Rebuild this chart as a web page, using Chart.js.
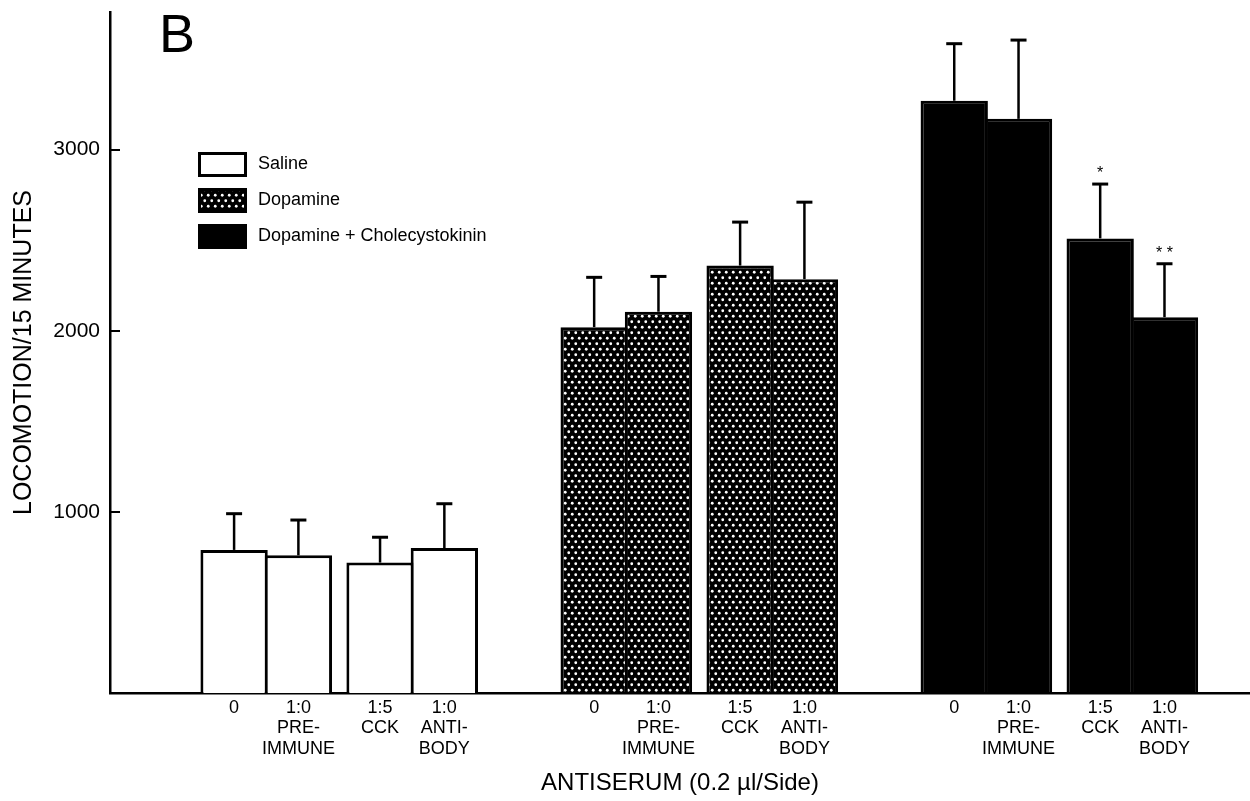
<!DOCTYPE html>
<html lang="en">
<head>
  <meta charset="UTF-8">
  <title>Locomotion - Antiserum</title>
  <script src="https://cdn.jsdelivr.net/npm/chart.js"></script>
  <style>
    body {
      margin: 0;
      background: #fff;
    }

    .chart-box {
      width: 1250px;
      height: 801px;
    }
  </style>
</head>
<body>

  <div class="chart-box">
    <canvas id="locoChart"></canvas>
  </div>

  <script>
    // data
    const treatments = ['Saline', 'Dopamine', 'Dopamine + Cholecystokinin'];
    const antiserumLabels = [['0'], ['1:0', 'PRE-', 'IMMUNE'], ['1:5', 'CCK'], ['1:0', 'ANTI-', 'BODY']];
    const salineMean = [790, 760, 720, 800];
    const salineSem = [200, 195, 140, 245];
    const dopamineMean = [2020, 2105, 2360, 2285];
    const dopamineSem = [275, 195, 240, 425];
    const dopCckMean = [3270, 3170, 2510, 2075];
    const dopCckSem = [315, 435, 300, 295];
    const dopCckSig = ['', '', '*', '* *'];
    const yTicks = [1000, 2000, 3000];
    const yMax = 3760;

    const FONT = "'Liberation Sans', Arial, Helvetica, sans-serif";

    // layout: bars of one pair touch, small gap between pairs, wider gap between groups
    const GROUP_STEP = 5.6;
    const PAIR_STEP = 2.27;
    const barX = (g, i) => g * GROUP_STEP + Math.floor(i / 2) * PAIR_STEP + (i % 2);

    function dotPattern() {
      const c = document.createElement('canvas');
      c.width = 7;
      c.height = 11;
      const g = c.getContext('2d');
      g.fillStyle = '#000';
      g.fillRect(0, 0, 7, 11);
      g.fillStyle = '#fff';
      [[1.75, 2.75], [5.25, 8.25]].forEach(([x, y]) => {
        g.beginPath();
        g.arc(x, y, 1.4, 0, Math.PI * 2);
        g.fill();
      });
      return g.createPattern(c, 'repeat');
    }

    const dots = dotPattern();

    function series(g, mean) {
      return mean.map((v, i) => ({ x: barX(g, i), y: v }));
    }

    const errorBars = {
      id: 'errorBars',
      afterDatasetsDraw(chart) {
        const ctx = chart.ctx;
        const y = chart.scales.y;
        ctx.save();
        ctx.strokeStyle = '#000';
        ctx.fillStyle = '#000';
        chart.data.datasets.forEach((ds, di) => {
          chart.getDatasetMeta(di).data.forEach((bar, i) => {
            const top = y.getPixelForValue(ds.data[i].y + ds.sem[i]);
            ctx.lineWidth = 2.5;
            ctx.beginPath();
            ctx.moveTo(bar.x, bar.y);
            ctx.lineTo(bar.x, top);
            ctx.stroke();
            ctx.lineWidth = 3;
            ctx.beginPath();
            ctx.moveTo(bar.x - 8, top);
            ctx.lineTo(bar.x + 8, top);
            ctx.stroke();
            if (ds.sig && ds.sig[i]) {
              ctx.font = '16px ' + FONT;
              ctx.textAlign = 'center';
              ctx.textBaseline = 'bottom';
              ctx.fillText(ds.sig[i], bar.x, top - 2);
            }
          });
        });
        ctx.restore();
      }
    };

    const panelExtras = {
      id: 'panelExtras',
      afterDraw(chart) {
        const ctx = chart.ctx;
        const ca = chart.chartArea;
        ctx.save();

        // panel letter
        ctx.fillStyle = '#000';
        ctx.font = '54px ' + FONT;
        ctx.textAlign = 'left';
        ctx.textBaseline = 'alphabetic';
        ctx.fillText('B', ca.left + 49, ca.top + 40);

        // legend
        const lx = ca.left + 88;
        const ly = ca.top + 140;
        treatments.forEach((name, k) => {
          const ds = chart.data.datasets[k];
          const yy = ly + k * 36;
          ctx.fillStyle = ds.backgroundColor;
          ctx.fillRect(lx, yy, 49, 25);
          ctx.lineWidth = 3;
          ctx.strokeStyle = '#000';
          ctx.strokeRect(lx + 1.5, yy + 1.5, 46, 22);
          ctx.fillStyle = '#000';
          ctx.font = '18px ' + FONT;
          ctx.textBaseline = 'middle';
          ctx.fillText(name, lx + 60, yy + 12.5);
        });
        ctx.restore();
      }
    };

    const locoChart = new Chart(document.getElementById('locoChart'), {
      type: 'bar',
      data: {
        datasets: [
          {
            label: treatments[0],
            data: series(0, salineMean),
            sem: salineSem,
            backgroundColor: '#fff',
            borderColor: '#000',
            borderWidth: 3
          },
          {
            label: treatments[1],
            data: series(1, dopamineMean),
            sem: dopamineSem,
            backgroundColor: dots,
            borderColor: '#000',
            borderWidth: 3
          },
          {
            label: treatments[2],
            data: series(2, dopCckMean),
            sem: dopCckSem,
            sig: dopCckSig,
            backgroundColor: '#000',
            borderColor: '#000',
            borderWidth: 3
          }
        ]
      },
      options: {
        responsive: true,
        maintainAspectRatio: false,
        animation: false,
        layout: { padding: { top: 12, right: 0, bottom: 0, left: 0 } },
        datasets: {
          bar: { grouped: false, barPercentage: 1.047, categoryPercentage: 1 }
        },
        plugins: {
          legend: { display: false },
          tooltip: { enabled: false }
        },
        scales: {
          x: {
            type: 'linear',
            offset: false,
            min: -1.93,
            max: 15.8,
            afterFit: s => {
              s.height = 108;
              s.paddingLeft = 0;
              s.paddingRight = 0;
            },
            afterBuildTicks: s => {
              const t = [];
              for (let g = 0; g < 3; g++) {
                for (let i = 0; i < 4; i++) t.push({ value: barX(g, i) });
              }
              s.ticks = t;
            },
            grid: { display: false, offset: false },
            border: { display: true, color: '#000', width: 2.5 },
            ticks: {
              autoSkip: false,
              maxRotation: 0,
              padding: -3,
              color: '#000',
              font: { family: FONT, size: 18, lineHeight: 1.13 },
              callback: (v, i) => antiserumLabels[i % 4]
            },
            title: {
              display: true,
              text: 'ANTISERUM (0.2 \u00b5l/Side)',
              color: '#000',
              font: { family: FONT, size: 24 },
              padding: { top: 0, bottom: 3 }
            }
          },
          y: {
            min: 0,
            max: yMax,
            afterFit: s => {
              s.width = 110;
              s.paddingTop = 0;
              s.paddingBottom = 0;
            },
            afterBuildTicks: s => { s.ticks = yTicks.map(v => ({ value: v })); },
            grid: {
              drawOnChartArea: false,
              drawTicks: true,
              tickLength: -10,
              color: '#000',
              lineWidth: 2
            },
            border: { display: true, color: '#000', width: 2.5 },
            ticks: {
              padding: 20,
              color: '#000',
              font: { family: FONT, size: 21 },
              callback: v => String(v)
            },
            title: {
              display: true,
              text: 'LOCOMOTION/15 MINUTES',
              color: '#000',
              font: { family: FONT, size: 25 },
              padding: { top: 9, bottom: 0 }
            }
          }
        }
      },
      plugins: [errorBars, panelExtras]
    });
  </script>

</body>
</html>
